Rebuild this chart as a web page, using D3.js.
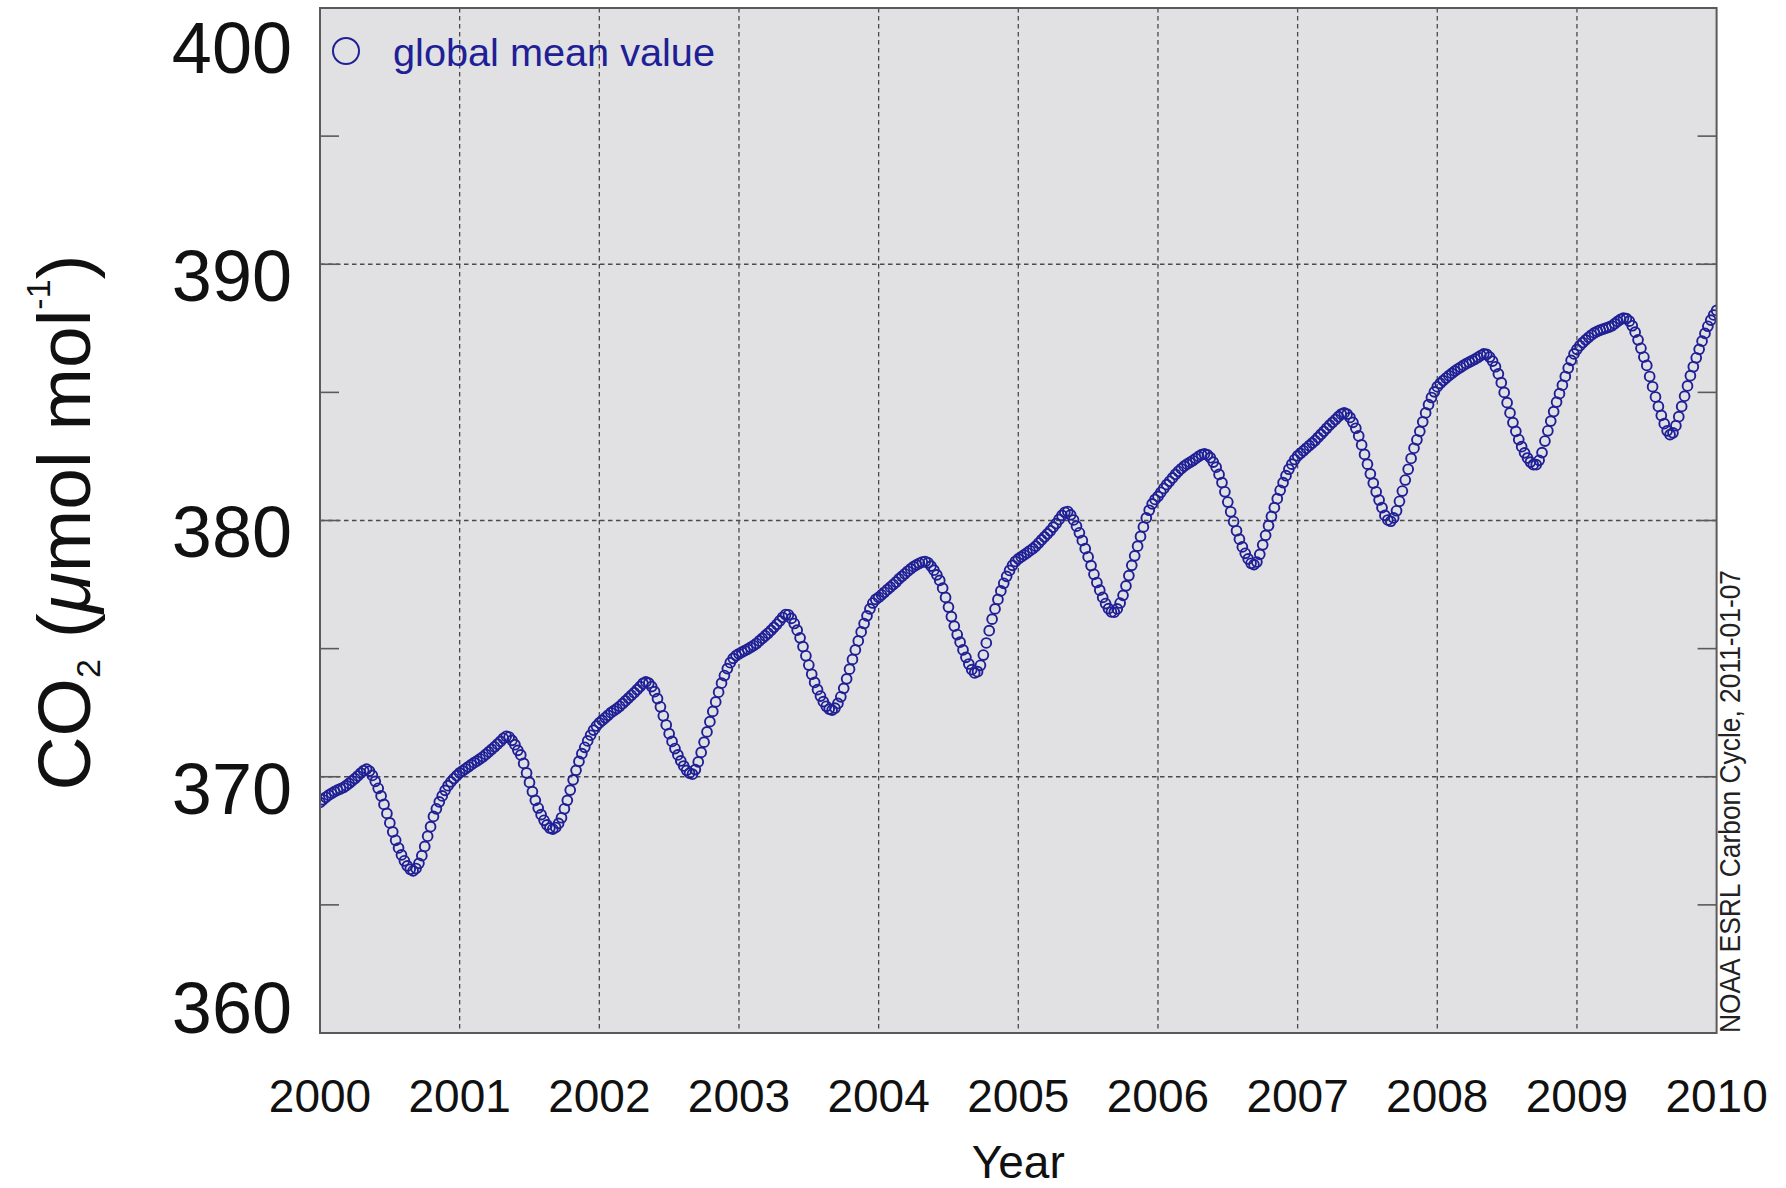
<!DOCTYPE html>
<html>
<head>
<meta charset="utf-8">
<script src="https://cdn.jsdelivr.net/npm/d3@7"></script>
<style>
  html, body { margin: 0; padding: 0; background: #ffffff; }
  svg { display: block; }
  text { font-family: "Liberation Sans", Arial, Helvetica, sans-serif; }
</style>
</head>
<body>
<svg id="chart" width="1786" height="1188"></svg>
<script>
// Global mean CO2 (umol/mol), 48 samples per year, 2000-2010
const y2000 = [369.00,369.10,369.20,369.28,369.35,369.42,369.48,369.53,369.58,369.65,369.74,369.84,369.93,370.03,370.14,370.24,370.30,370.22,370.05,369.82,369.55,369.25,368.92,368.57,368.20,367.85,367.52,367.22,366.95,366.72,366.52,366.39,366.33,366.42,366.62,366.92,367.28,367.68,368.05,368.45,368.75,369.02,369.25,369.47,369.65,369.80,369.93,370.04];
const y2001 = [370.15,370.23,370.31,370.39,370.47,370.55,370.62,370.70,370.78,370.87,370.97,371.07,371.17,371.27,371.38,371.50,371.58,371.55,371.42,371.25,371.03,370.85,370.52,370.15,369.78,369.42,369.08,368.78,368.52,368.30,368.12,368.00,367.96,368.02,368.18,368.40,368.75,369.08,369.48,369.88,370.25,370.60,370.90,371.15,371.40,371.62,371.82,371.98];
const y2002 = [372.10,372.20,372.30,372.40,372.50,372.58,372.66,372.75,372.85,372.96,373.07,373.18,373.28,373.40,373.52,373.64,373.70,373.65,373.52,373.32,373.05,372.73,372.38,372.02,371.68,371.38,371.10,370.85,370.62,370.42,370.25,370.14,370.10,370.28,370.58,370.95,371.35,371.75,372.15,372.55,372.92,373.30,373.65,373.95,374.22,374.45,374.62,374.73];
const y2003 = [374.80,374.86,374.92,374.98,375.05,375.12,375.20,375.30,375.40,375.50,375.60,375.71,375.83,375.95,376.08,376.22,376.33,376.32,376.18,375.98,375.72,375.42,375.08,374.72,374.36,374.00,373.68,373.40,373.15,372.93,372.75,372.64,372.60,372.68,372.86,373.12,373.45,373.82,374.20,374.58,374.95,375.30,375.65,375.98,376.28,376.55,376.78,376.92];
const y2004 = [377.00,377.10,377.20,377.30,377.40,377.50,377.60,377.72,377.82,377.92,378.02,378.11,378.20,378.27,378.33,378.38,378.40,378.35,378.22,378.06,377.88,377.66,377.36,377.00,376.62,376.25,375.88,375.55,375.25,374.95,374.66,374.40,374.18,374.05,374.10,374.35,374.75,375.22,375.70,376.15,376.55,376.92,377.25,377.55,377.82,378.05,378.25,378.40];
const y2005 = [378.50,378.58,378.66,378.74,378.82,378.90,379.00,379.12,379.24,379.36,379.48,379.60,379.74,379.88,380.04,380.20,380.32,380.35,380.22,380.02,379.78,379.52,379.22,378.90,378.58,378.24,377.90,377.58,377.28,377.00,376.76,376.56,376.43,376.42,376.55,376.78,377.08,377.45,377.85,378.25,378.62,379.00,379.38,379.75,380.10,380.40,380.65,380.82];
const y2006 = [380.94,381.10,381.25,381.40,381.53,381.66,381.80,381.92,382.02,382.12,382.20,382.27,382.34,382.42,382.50,382.57,382.60,382.56,382.45,382.28,382.08,381.80,381.48,381.12,380.72,380.34,379.96,379.60,379.27,378.97,378.72,378.50,378.33,378.28,378.38,378.68,379.05,379.42,379.80,380.16,380.50,380.85,381.18,381.48,381.75,382.00,382.20,382.38];
const y2007 = [382.52,382.62,382.72,382.82,382.92,383.02,383.12,383.24,383.36,383.48,383.60,383.72,383.83,383.94,384.05,384.15,384.20,384.15,384.02,383.83,383.60,383.30,382.95,382.58,382.20,381.82,381.46,381.12,380.80,380.50,380.20,380.02,379.97,380.10,380.38,380.75,381.15,381.58,382.00,382.42,382.82,383.15,383.48,383.85,384.20,384.52,384.80,385.02];
const y2008 = [385.22,385.35,385.46,385.56,385.65,385.74,385.83,385.91,385.98,386.05,386.12,386.18,386.24,386.30,386.37,386.44,386.50,386.48,386.38,386.22,386.00,385.72,385.38,385.00,384.60,384.20,383.82,383.48,383.16,382.88,382.64,382.44,382.28,382.18,382.18,382.35,382.65,383.10,383.50,383.88,384.25,384.62,384.95,385.28,385.62,385.95,386.25,386.50];
const y2009 = [386.68,386.82,386.94,387.05,387.15,387.24,387.32,387.38,387.43,387.47,387.51,387.55,387.60,387.68,387.77,387.85,387.90,387.88,387.78,387.60,387.35,387.05,386.72,386.38,386.05,385.62,385.22,384.82,384.45,384.10,383.78,383.50,383.35,383.42,383.70,384.05,384.45,384.85,385.25,385.65,386.00,386.35,386.68,387.00,387.30,387.58,387.82,388.02];
const y2010 = [388.20];

const years = [2000,2001,2002,2003,2004,2005,2006,2007,2008,2009,2010];
const seriesByYear = [y2000,y2001,y2002,y2003,y2004,y2005,y2006,y2007,y2008,y2009,y2010];
const yTickLabels = [360,370,380,390,400];
const yMinorTicks = [365,375,385,395];
const legendLabel = "global mean value";
const xTitle = "Year";
const creditText = "NOAA ESRL Carbon Cycle, 2011-01-07";

const samplesPerYear = 48;
const points = [];
seriesByYear.forEach((vals, i) => {
  vals.forEach((v, k) => points.push({ t: years[i] + k / samplesPerYear, v }));
});

const W = 1786, H = 1188;
const m = { left: 320, right: 69.4, top: 8, bottom: 155 };
const x = d3.scaleLinear().domain([2000, 2010]).range([m.left, W - m.right]);
const y = d3.scaleLinear().domain([360, 400]).range([H - m.bottom, m.top]);

const svg = d3.select("#chart");
const navy = "#202096";
const frame = "#5a5a5a";
const x0 = x.range()[0], x1 = x.range()[1];
const yb = y.range()[0], yt = y.range()[1];

// plot panel
svg.append("rect").attr("x", x0).attr("y", yt)
  .attr("width", x1 - x0).attr("height", yb - yt).attr("fill", "#e1e1e3");

svg.append("clipPath").attr("id", "plotclip").append("rect")
  .attr("x", x0).attr("y", yt).attr("width", x1 - x0).attr("height", yb - yt);

// dashed grid
const grid = svg.append("g").attr("stroke", "#4a4a4a").attr("stroke-width", 1.3)
  .attr("stroke-dasharray", "4.5,3.5");
grid.selectAll("line.v").data(years.slice(1, -1)).join("line")
  .attr("x1", d => x(d)).attr("x2", d => x(d)).attr("y1", yt).attr("y2", yb);
grid.selectAll("line.h").data(yTickLabels.slice(1, -1)).join("line")
  .attr("x1", x0).attr("x2", x1).attr("y1", d => y(d)).attr("y2", d => y(d));

// inner tick marks on both vertical edges
const tickLen = 19;
const ticks = svg.append("g").attr("stroke", frame).attr("stroke-width", 1.6);
ticks.selectAll("line.l").data(yMinorTicks.concat(yTickLabels)).join("line")
  .attr("x1", x0).attr("x2", x0 + tickLen).attr("y1", d => y(d)).attr("y2", d => y(d));
ticks.selectAll("line.r").data(yMinorTicks.concat(yTickLabels)).join("line")
  .attr("x1", x1 - tickLen).attr("x2", x1).attr("y1", d => y(d)).attr("y2", d => y(d));

// data circles
svg.append("g").attr("clip-path", "url(#plotclip)")
  .selectAll("circle").data(points).join("circle")
  .attr("cx", d => x(d.t)).attr("cy", d => y(d.v)).attr("r", 4.9)
  .attr("fill", "none").attr("stroke", navy).attr("stroke-width", 1.9);

// frame
svg.append("rect").attr("x", x0).attr("y", yt)
  .attr("width", x1 - x0).attr("height", yb - yt)
  .attr("fill", "none").attr("stroke", frame).attr("stroke-width", 2);

// y tick labels
svg.append("g").selectAll("text").data(yTickLabels).join("text")
  .attr("x", 292)
  .attr("y", d => Math.max(yt + 39, Math.min(yb - 26, y(d) + 11)))
  .attr("dy", "0.36em")
  .attr("text-anchor", "end").attr("font-size", 72).attr("fill", "#111")
  .text(d => d);

// x tick labels
svg.append("g").selectAll("text").data(years).join("text")
  .attr("x", d => x(d)).attr("y", 1112)
  .attr("text-anchor", "middle").attr("font-size", 46).attr("fill", "#111")
  .text(d => d);

// x title
svg.append("text").attr("x", (x0 + x1) / 2).attr("y", 1178)
  .attr("text-anchor", "middle").attr("font-size", 46).attr("fill", "#111")
  .text(xTitle);

// y title: CO2 (umol mol-1)
const yt_ = svg.append("text")
  .attr("transform", `translate(90,${(yt + yb) / 2 + 2}) rotate(-90)`)
  .attr("text-anchor", "middle").attr("font-size", 75).attr("fill", "#111");
yt_.append("tspan").text("CO");
yt_.append("tspan").attr("font-size", 34).attr("dy", 10).text("2");
yt_.append("tspan").attr("dy", -10).text(" (");
yt_.append("tspan").attr("font-style", "italic").text("\u03bc");
yt_.append("tspan").text("mol mol");
yt_.append("tspan").attr("font-size", 34).attr("dy", -40).text("-1");
yt_.append("tspan").attr("dy", 40).text(")");

// legend
svg.append("circle").attr("cx", 346).attr("cy", 51).attr("r", 13)
  .attr("fill", "none").attr("stroke", navy).attr("stroke-width", 2);
svg.append("text").attr("x", 393).attr("y", 66)
  .attr("font-size", 38).attr("fill", navy)
  .attr("textLength", 322).attr("lengthAdjust", "spacingAndGlyphs")
  .text(legendLabel);

// credit line along the right edge
svg.append("text")
  .attr("transform", `translate(1740,${yb}) rotate(-90)`)
  .attr("font-size", 30).attr("fill", "#222")
  .attr("textLength", 463).attr("lengthAdjust", "spacingAndGlyphs")
  .text(creditText);
</script>
</body>
</html>
